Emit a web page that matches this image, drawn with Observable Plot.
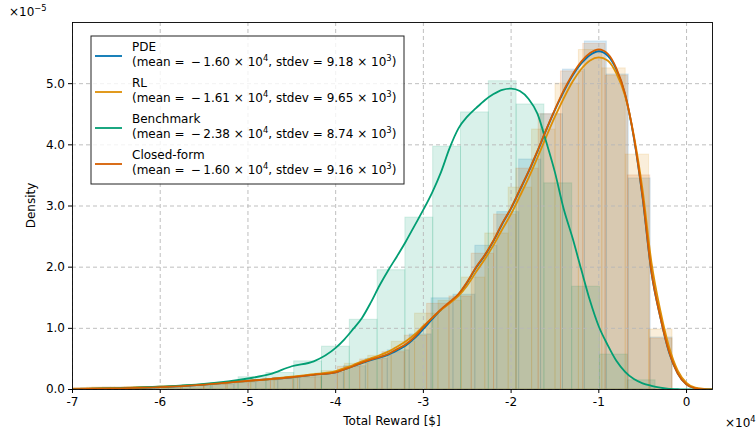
<!DOCTYPE html>
<html><head><meta charset="utf-8">
<script src="https://cdn.jsdelivr.net/npm/d3@7"></script>
<script src="https://cdn.jsdelivr.net/npm/@observablehq/plot@0.6"></script>
<style>
html,body{margin:0;padding:0;background:#fff;}
#chart svg{display:block;}
</style></head><body><div id="chart"></div>
<script>
// Units: x in 10^4 $, density in 10^-5
const seriesNames = ["PDE", "RL", "Benchmark", "Closed-form"];
const seriesColors = ["#0173b2", "#de8f05", "#029e73", "#d55e00"];
const seriesMeans = ["1.60", "1.61", "2.38", "1.60"];
const seriesStdevs = ["9.18", "9.65", "8.74", "9.16"];

const xTicks = [-7, -6, -5, -4, -3, -2, -1, 0];
const yTicks = [0, 1, 2, 3, 4, 5];

// Histogram densities (left to right), right-most bin edge and bin width
const histPDE = [0.02, 0.03, 0.03, 0.04, 0.05, 0.06, 0.08, 0.11, 0.14, 0.17, 0.2, 0.27, 0.38, 0.5, 0.64, 0.9, 1.49, 1.55, 2.35, 2.9, 3.76, 4.5, 5.23, 5.69, 5.15, 3.45, 0.85];
const histRL = [0.02, 0.03, 0.03, 0.04, 0.05, 0.06, 0.08, 0.11, 0.15, 0.18, 0.22, 0.3, 0.42, 0.55, 0.78, 1.24, 1.45, 1.83, 2.55, 3.3, 4.25, 5.0, 5.55, 5.25, 3.84, 0.98];
const histBench = [0.01, 0.02, 0.03, 0.04, 0.07, 0.10, 0.20, 0.27, 0.46, 0.70, 1.14, 1.95, 2.81, 3.97, 4.53, 5.04, 4.66, 3.37, 1.68, 0.57, 0.15];
const histClosed = [0.02, 0.03, 0.03, 0.04, 0.05, 0.06, 0.08, 0.11, 0.14, 0.17, 0.2, 0.26, 0.37, 0.49, 0.61, 0.88, 1.40, 1.52, 2.22, 2.86, 3.61, 4.5, 5.2, 5.65, 5.13, 3.50, 0.83];
const histRightEdge = [-0.16, -0.16, -0.353, -0.16];
const histBinWidth = [0.2497, 0.2668, 0.3169, 0.2543];

// KDE curves
const kdeX = [-7, -6.5, -6, -5.5, -5, -4.75, -4.5, -4.25, -4, -3.9, -3.8, -3.7, -3.6, -3.5, -3.4, -3.3, -3.2, -3.1, -3.0, -2.9, -2.8, -2.7, -2.6, -2.5, -2.4, -2.3, -2.2, -2.1, -2.0, -1.9, -1.8, -1.7, -1.6, -1.5, -1.4, -1.3, -1.2, -1.1, -1.0, -0.9, -0.8, -0.7, -0.6, -0.5, -0.4, -0.3, -0.2, -0.1, 0.0, 0.1, 0.2, 0.3];
const kdePDE = [0.005, 0.02, 0.04, 0.08, 0.14, 0.17, 0.20, 0.24, 0.28, 0.33, 0.38, 0.43, 0.48, 0.52, 0.57, 0.64, 0.72, 0.84, 0.99, 1.15, 1.30, 1.42, 1.55, 1.75, 1.99, 2.19, 2.43, 2.71, 2.96, 3.26, 3.56, 3.89, 4.24, 4.57, 4.87, 5.13, 5.33, 5.47, 5.53, 5.46, 5.23, 4.82, 4.11, 3.12, 1.91, 1.19, 0.61, 0.26, 0.08, 0.02, 0.005, 0.0];
const kdeRL = [0.01, 0.025, 0.045, 0.085, 0.14, 0.17, 0.21, 0.25, 0.30, 0.35, 0.40, 0.46, 0.51, 0.56, 0.62, 0.70, 0.79, 0.90, 1.04, 1.17, 1.30, 1.41, 1.53, 1.70, 1.92, 2.13, 2.36, 2.62, 2.87, 3.16, 3.46, 3.79, 4.13, 4.46, 4.76, 5.03, 5.24, 5.38, 5.43, 5.38, 5.17, 4.80, 4.15, 3.25, 2.08, 1.30, 0.70, 0.31, 0.11, 0.03, 0.01, 0.0];
const kdeBench = [0.005, 0.02, 0.045, 0.09, 0.18, 0.25, 0.38, 0.46, 0.68, 0.82, 0.99, 1.17, 1.42, 1.70, 1.95, 2.18, 2.42, 2.68, 2.94, 3.22, 3.55, 3.95, 4.27, 4.46, 4.60, 4.73, 4.83, 4.90, 4.92, 4.88, 4.75, 4.51, 4.05, 3.55, 2.95, 2.48, 1.96, 1.45, 1.03, 0.73, 0.47, 0.29, 0.17, 0.10, 0.06, 0.03, 0.01, 0.005, 0.0, 0.0, 0.0, 0.0];
const kdeClosed = [0.005, 0.02, 0.04, 0.08, 0.14, 0.17, 0.20, 0.24, 0.28, 0.33, 0.38, 0.44, 0.49, 0.53, 0.58, 0.66, 0.74, 0.86, 1.02, 1.17, 1.31, 1.43, 1.56, 1.76, 2.0, 2.2, 2.44, 2.72, 2.97, 3.27, 3.57, 3.90, 4.25, 4.58, 4.89, 5.15, 5.36, 5.50, 5.56, 5.49, 5.25, 4.83, 4.12, 3.14, 1.92, 1.19, 0.62, 0.26, 0.08, 0.02, 0.005, 0.0];

const histAll = [histPDE, histRL, histBench, histClosed];
const kdeAll = [kdePDE, kdeRL, kdeBench, kdeClosed];

function histRows(k) {
  const h = histAll[k], w = histBinWidth[k];
  const start = histRightEdge[k] - h.length * w;
  return h.map((y, i) => ({x1: start + i * w, x2: start + (i + 1) * w, y}));
}
function kdeRows(k) { return kdeX.map((x, i) => ({x, y: kdeAll[k][i]})); }

const FS = 12;
const marks = [];
[0, 1, 2, 3].forEach(k => {
  marks.push(Plot.rectY(histRows(k), {x1: "x1", x2: "x2", y: "y", fill: seriesColors[k], fillOpacity: 0.15,
    stroke: seriesColors[k], strokeOpacity: 0.15, strokeWidth: 1, clip: true}));
});
marks.push(Plot.gridX(xTicks, {stroke: "#b8b8b8", strokeOpacity: 1, strokeWidth: 0.9, strokeDasharray: "4,3"}));
marks.push(Plot.gridY(yTicks, {stroke: "#b8b8b8", strokeOpacity: 1, strokeWidth: 0.9, strokeDasharray: "4,3"}));
[0, 1, 2, 3].forEach(k => {
  marks.push(Plot.line(kdeRows(k), {x: "x", y: "y", stroke: seriesColors[k], strokeWidth: 1.8, curve: "monotone-x", clip: true}));
});
marks.push(Plot.axisX({ticks: xTicks, tickFormat: d => String(d), tickSize: 4, tickPadding: 3.5, fontSize: FS, label: null}));
marks.push(Plot.axisY({ticks: yTicks, tickFormat: d => d.toFixed(1), tickSize: 4, tickPadding: 3.5, fontSize: FS, label: null}));
marks.push(Plot.frame({stroke: "#000", strokeWidth: 0.9}));

const svg = Plot.plot({
  width: 756, height: 431,
  marginLeft: 72, marginRight: 44, marginTop: 22, marginBottom: 42,
  style: {fontFamily: "DejaVu Sans", fontSize: FS + "px", color: "#000", background: "#fff"},
  x: {domain: [-7, 0.296]},
  y: {domain: [0, 6]},
  marks
});
document.getElementById("chart").appendChild(svg);

const s = d3.select(svg);
function txt(g, x, y, anchor) {
  return g.append("text").attr("x", x).attr("y", y).attr("text-anchor", anchor || "start")
    .attr("font-family", "DejaVu Sans").attr("font-size", FS).attr("fill", "#000");
}
function supText(g, x, y, base, sup, anchor) {
  const t = txt(g, x, y, anchor);
  t.append("tspan").text(base);
  t.append("tspan").attr("font-size", FS * 0.7).attr("dy", -5).text(sup);
  return t;
}
// Axis labels
txt(s, 392, 425, "middle").text("Total Reward [$]");
s.append("text").attr("transform", "translate(35,205.5) rotate(-90)").attr("text-anchor", "middle")
  .attr("font-family", "DejaVu Sans").attr("font-size", FS).attr("fill", "#000").text("Density");
supText(s, 9, 16, "×10", "−5");
supText(s, 725, 427, "×10", "4");

// Legend
const lg = s.append("g");
lg.append("rect").attr("x", 91).attr("y", 36).attr("width", 313).attr("height", 148)
  .attr("fill", "#fff").attr("fill-opacity", 0.8).attr("stroke", "#222").attr("stroke-width", 1);
seriesNames.forEach((name, i) => {
  const cy = 56 + 36 * i;
  lg.append("line").attr("x1", 95).attr("x2", 122).attr("y1", cy).attr("y2", cy)
    .attr("stroke", seriesColors[i]).attr("stroke-width", 1.8);
  txt(lg, 132, cy - 5, "start").text(name);
  const t = txt(lg, 132, cy + 10, "start");
  t.append("tspan").text("(mean = \u2009\u2212\u2009" + seriesMeans[i] + " × 10");
  t.append("tspan").attr("font-size", FS * 0.7).attr("dy", -5).text("4");
  t.append("tspan").attr("dy", 5).text(", stdev = " + seriesStdevs[i] + " × 10");
  t.append("tspan").attr("font-size", FS * 0.7).attr("dy", -5).text("3");
  t.append("tspan").attr("dy", 5).text(")");
});
</script></body></html>
